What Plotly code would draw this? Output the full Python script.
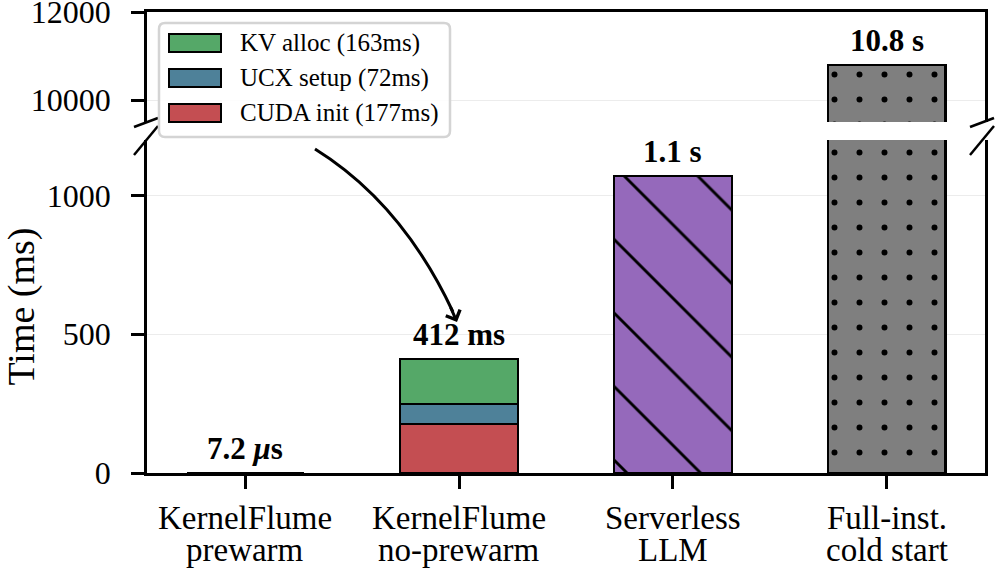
import plotly.graph_objects as go

# ---------------- data ----------------
categories = ["KernelFlume prewarm", "KernelFlume no-prewarm",
              "Serverless LLM", "Full-inst. cold start"]
category_lines = [("KernelFlume", "prewarm"), ("KernelFlume", "no-prewarm"),
                  ("Serverless", "LLM"), ("Full-inst.", "cold start")]
prewarm_ms = [0.0072]
breakdown_names = ["CUDA init (177ms)", "UCX setup (72ms)", "KV alloc (163ms)"]
breakdown_values = [177, 72, 163]
serverless_ms = [1070]
full_inst_ms = [10800]
bar_labels = ["<b>7.2 <i>μ</i>s</b>", "<b>412 ms</b>", "<b>1.1 s</b>", "<b>10.8 s</b>"]
bar_totals = [0.0072, 412, 1070, 10800]
bottom_ticks = [0, 500, 1000]
bottom_ticktext = ["0", "500", "1000"]
top_ticks = [10000, 12000]
top_ticktext = ["10000", "12000"]

# ---------------- styles ----------------
breakdown_colors = ["#c44e52", "#4e8199", "#55a868"]
purple = "#9569bb"
gray = "#7f7f7f"
FONT = "Liberation Serif"
W, H = 1000, 569
ML, MR, MT, MB = 147, 15, 12, 96
PW, PH = W - ML - MR, H - MT - MB


def px(x):
    return (x - ML) / PW


def py(y):
    return (H - MB - y) / PH


bottom_domain = [0, py(140)]
top_domain = [py(122), 1]

fig = go.Figure()
line = dict(color="black", width=2)
bw = 0.55

fig.add_trace(go.Bar(x=[categories[0]], y=prewarm_ms, width=bw, marker=dict(color="white", line=line),
                     showlegend=False, xaxis="x", yaxis="y"))
for name, val, col in zip(breakdown_names, breakdown_values, breakdown_colors):
    fig.add_trace(go.Bar(x=[categories[1]], y=[val], width=bw, name=name,
                         marker=dict(color=col, line=line), showlegend=False,
                         xaxis="x", yaxis="y"))
fig.add_trace(go.Bar(x=[categories[2]], y=serverless_ms, width=bw,
                     marker=dict(color=purple, line=line,
                                 pattern=dict(shape="\\", size=52, solidity=0.055,
                                              fgcolor="black", bgcolor=purple, fgopacity=1)),
                     showlegend=False, xaxis="x", yaxis="y"))
for xa, ya in (("x", "y"), ("x2", "y2")):
    fig.add_trace(go.Bar(x=[categories[3]], y=full_inst_ms, width=bw,
                         marker=dict(color=gray, line=dict(color="black", width=2.5),
                                     pattern=dict(shape=".", size=25, solidity=0.045,
                                                  fgcolor="black", bgcolor=gray, fgopacity=1)),
                         showlegend=False, xaxis=xa, yaxis=ya))

axis_common = dict(showline=True, linecolor="black", linewidth=2.5,
                   ticks="outside", ticklen=13, tickwidth=2.5, tickcolor="black",
                   automargin=False, ticklabeloverflow="allow",
                   tickfont=dict(family=FONT, size=32, color="black"))

fig.update_layout(
    width=W, height=H,
    margin=dict(l=ML, r=MR, t=MT, b=MB),
    paper_bgcolor="white", plot_bgcolor="white",
    barmode="stack",
    showlegend=False,
    xaxis=dict(axis_common, type="category", categoryorder="array", categoryarray=categories,
               range=[-0.46, 3.46], anchor="y", mirror=False, showticklabels=False),
    xaxis2=dict(type="category", categoryorder="array", categoryarray=categories,
                matches="x", anchor="y2", side="top", showline=True, linecolor="black",
                linewidth=2.5, ticks="", showticklabels=False, showgrid=False),
    yaxis=dict(axis_common, domain=bottom_domain, range=[0, 1200], tickvals=bottom_ticks,
               ticktext=bottom_ticktext, ticklabelstandoff=14,
               mirror=True, showgrid=True, gridcolor="#ececec", gridwidth=1, zeroline=False,
               title=dict(text="Time (ms)", font=dict(family=FONT, size=38, color="black"),
                          standoff=12)),
    yaxis2=dict(axis_common, domain=top_domain, range=[9500, 12000], tickvals=top_ticks,
                ticktext=top_ticktext, ticklabelstandoff=14,
                mirror=True, showgrid=True, gridcolor="#ececec", gridwidth=1, zeroline=False,
                anchor="x2"),
)

shapes = []
# broken-axis marks
brk = dict(type="line", xref="paper", yref="paper", line=dict(color="black", width=2.5), layer="above")
for cx in (146, 982):
    shapes.append(dict(brk, x0=px(cx - 12), y0=py(127), x1=px(cx + 12), y1=py(118)))
    shapes.append(dict(brk, x0=px(cx - 12), y0=py(155), x1=px(cx + 12), y1=py(126)))

# legend box (rounded)
lx0, lx1, ly0, ly1, r = 159, 450, 23, 137, 6
path = (f"M{px(lx0 + r)},{py(ly0)} L{px(lx1 - r)},{py(ly0)} "
        f"Q{px(lx1)},{py(ly0)} {px(lx1)},{py(ly0 + r)} L{px(lx1)},{py(ly1 - r)} "
        f"Q{px(lx1)},{py(ly1)} {px(lx1 - r)},{py(ly1)} L{px(lx0 + r)},{py(ly1)} "
        f"Q{px(lx0)},{py(ly1)} {px(lx0)},{py(ly1 - r)} L{px(lx0)},{py(ly0 + r)} "
        f"Q{px(lx0)},{py(ly0)} {px(lx0 + r)},{py(ly0)} Z")
shapes.append(dict(type="path", xref="paper", yref="paper", path=path,
                   fillcolor="rgba(255,255,255,0.9)", line=dict(color="#d4d4d4", width=2.5),
                   layer="above"))
annotations = []
rows_y = [43, 78, 113]
for i, yy in enumerate(rows_y):
    k = len(breakdown_names) - 1 - i
    shapes.append(dict(type="rect", xref="paper", yref="paper",
                       x0=px(169), x1=px(221), y0=py(yy - 9), y1=py(yy + 9),
                       fillcolor=breakdown_colors[k], line=dict(color="black", width=2),
                       layer="above"))
    annotations.append(dict(xref="paper", yref="paper", x=px(238), y=py(yy),
                            xanchor="left", yanchor="middle", showarrow=False,
                            text=breakdown_names[k],
                            font=dict(family=FONT, size=25, color="black")))

# category labels (two lines each, matplotlib-like tight line spacing)
cat_font = dict(family=FONT, size=33, color="black")
for cat, (l1, l2) in zip(categories, category_lines):
    annotations.append(dict(x=cat, xref="x", y=py(518), yref="paper", text=l1,
                            showarrow=False, xanchor="center", yanchor="middle", font=cat_font))
    annotations.append(dict(x=cat, xref="x", y=py(550), yref="paper", text=l2,
                            showarrow=False, xanchor="center", yanchor="middle", font=cat_font))

# curved arrow
x0a, y0a = 315, 149
cxa, cya = 402, 203
x1a, y1a = 453, 312
shapes.append(dict(type="path", xref="paper", yref="paper",
                   path=f"M{px(x0a)},{py(y0a)} Q{px(cxa)},{py(cya)} {px(x1a)},{py(y1a)}",
                   line=dict(color="black", width=3), layer="above"))
annotations.append(dict(xref="paper", yref="paper", x=px(457), y=py(322), ax=-7, ay=-16,
                        axref="pixel", ayref="pixel", text="", showarrow=True,
                        arrowhead=4, arrowsize=1, arrowwidth=3, arrowcolor="black"))

# value labels
label_font = dict(family=FONT, size=31, color="black")
for i, (cat, tot, txt) in enumerate(zip(categories, bar_totals, bar_labels)):
    yref = "y2" if tot > 1200 else "y"
    annotations.append(dict(x=cat, y=tot, xref="x", yref=yref, text=txt, showarrow=False,
                            xanchor="center", yanchor="bottom", yshift=5, font=label_font))

fig.update_layout(shapes=shapes, annotations=annotations)
fig.write_html("out.html")
